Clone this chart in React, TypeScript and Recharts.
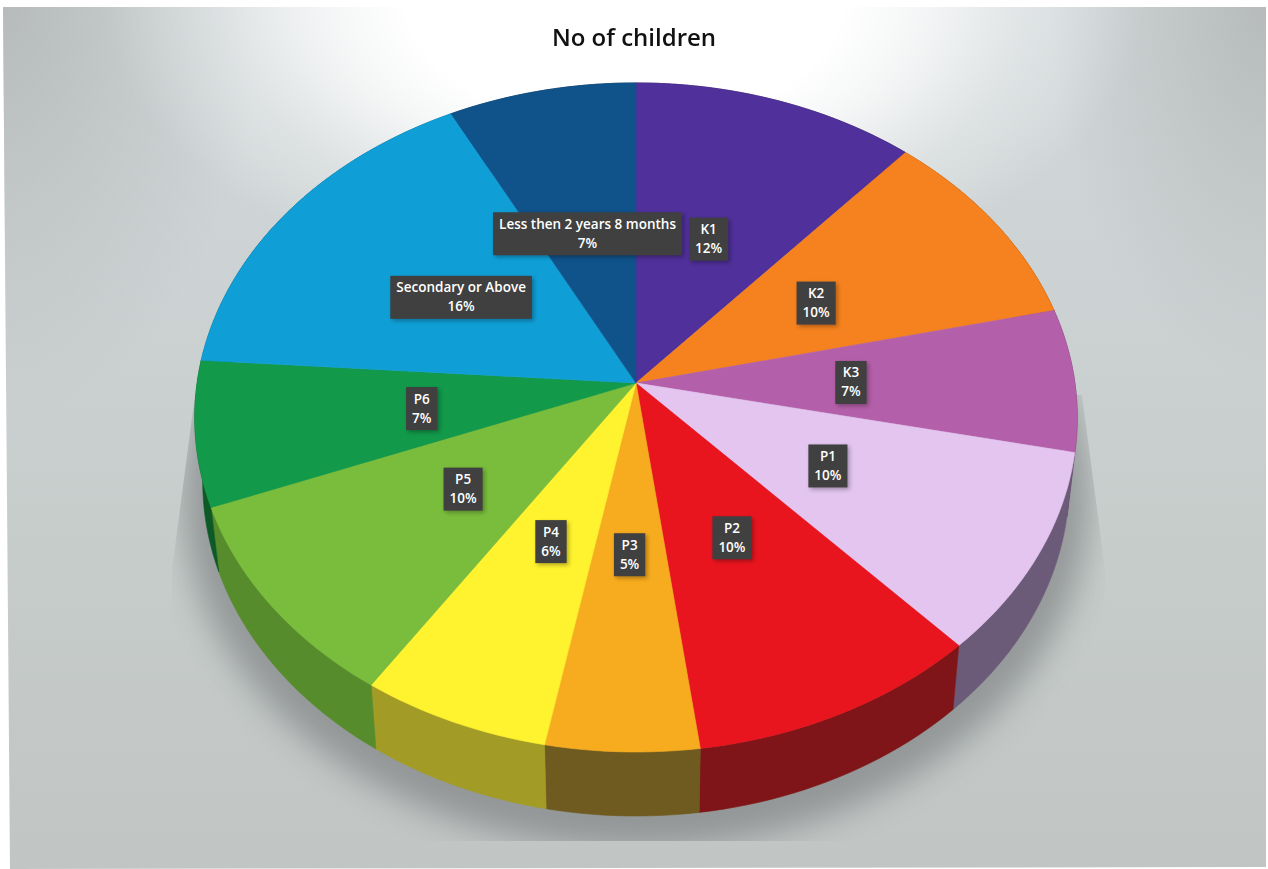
import React from "react";
import { PieChart, Pie, Cell } from "recharts";

const categories = ["K1", "K2", "K3", "P1", "P2", "P3", "P4", "P5", "P6", "Secondary or Above", "Less then 2 years 8 months"];
const shares = [11.5, 9.9, 6.9, 9.8, 9.8, 5.1, 6.3, 9.8, 7.0, 16.3, 7.6];
const percentLabels = ["12%", "10%", "7%", "10%", "10%", "5%", "6%", "10%", "7%", "16%", "7%"];
const topColors = ["#50309a", "#f5821f", "#b45fa9", "#e3c5f0", "#e8151f", "#f7ab1e", "#fff22e", "#7abd3c", "#12994a", "#0f9fd6", "#10528a"];
const sideColors = ["#2a1a50", "#80441a", "#5e3058", "#6c5b78", "#7f1518", "#6f5a20", "#a29c26", "#578c2c", "#0e5a26", "#085a78", "#082c4c"];

const rows = categories.map((name, i) => ({ name, value: shares[i], pct: percentLabels[i] }));
const wholeDisc = [{ name: "all", value: shares.reduce((a, b) => a + b, 0) }];

const CX = 636;
const CY = 383;
const R = 331;
const ASPECT = 1.326;
const TILT = -0.103;
const DEPTH = 64;
const LABEL_FRAC = 0.49;
const FONT = "'Open Sans', sans-serif";

function project(cx: number, cy: number, r: number, deg: number, frac: number, depth = 0) {
  const rad = (deg * Math.PI) / 180;
  const u = Math.cos(rad) * frac;
  const v = -Math.sin(rad) * frac;
  const den = 1 + TILT * v;
  const shrink = 1 - 0.018 * (depth / DEPTH);
  return {
    x: cx + (ASPECT * r * u * shrink) / den,
    y: cy + (r * v) / den + depth,
  };
}

function arc(p: any, frac: number, depth: number, reverse = false) {
  const { cx, cy, outerRadius, startAngle, endAngle } = p;
  const n = Math.max(2, Math.ceil(Math.abs(endAngle - startAngle) / 1.5));
  const pts = [];
  for (let i = 0; i <= n; i++) {
    const a = startAngle + ((endAngle - startAngle) * i) / n;
    const q = project(cx, cy, outerRadius, a, frac, depth);
    pts.push(`${q.x.toFixed(2)} ${q.y.toFixed(2)}`);
  }
  return reverse ? pts.reverse() : pts;
}

const TopFace = (p: any) => {
  const c = project(p.cx, p.cy, p.outerRadius, 0, 0);
  const d = `M${c.x} ${c.y}L${arc(p, 1, 0).join("L")}Z`;
  return <path d={d} fill={p.fill} stroke={p.fill} strokeWidth={0.6} />;
};

const SideFace = (p: any) => {
  const d = `M${arc(p, 1, 0).join("L")}L${arc(p, 1, DEPTH, true).join("L")}Z`;
  return <path d={d} fill={p.fill} stroke={p.fill} strokeWidth={0.6} />;
};

const ShadowFace = (p: any) => {
  const d = `M${arc(p, 1.05, DEPTH + 12).join("L")}Z`;
  return (
    <g clipPath="url(#shadowClip)">
      <path d={d} fill="#6d6f72" opacity={0.55} filter="url(#shadowBlur)" />
    </g>
  );
};

let ctx: CanvasRenderingContext2D | null = null;
function measure(text: string) {
  if (!ctx) ctx = document.createElement("canvas").getContext("2d");
  ctx!.font = `600 13.5px 'Open Sans'`;
  return ctx!.measureText(text).width;
}

const SliceLabel = (p: any) => {
  const { cx, cy, outerRadius, midAngle, name, pct, payload } = p;
  const at = project(cx, cy, outerRadius, midAngle, LABEL_FRAC);
  const text2 = pct ?? payload?.pct;
  const w = Math.max(measure(name), measure(text2)) + 12;
  const h = 43;
  const y = at.y + 1;
  return (
    <g>
      <rect x={at.x - w / 2 + 2} y={y - h / 2 + 2} width={w} height={h} fill="#000" opacity={0.3} filter="url(#boxBlur)" />
      <rect x={at.x - w / 2} y={y - h / 2} width={w} height={h} fill="#404040" />
      <text x={at.x} y={y - 5} textAnchor="middle" fontFamily={FONT} fontWeight={600} fontSize={13.5} fill="#ffffff">{name}</text>
      <text x={at.x} y={y + 14} textAnchor="middle" fontFamily={FONT} fontWeight={600} fontSize={13.5} fill="#ffffff">{text2}</text>
    </g>
  );
};

export default function App() {
  const common = { cx: CX, cy: CY, outerRadius: R, startAngle: 90, endAngle: -270, paddingAngle: 0, dataKey: "value", nameKey: "name", isAnimationActive: false, stroke: "none" };
  return (
    <div style={{ position: "absolute", left: 0, top: 0, width: 1268, height: 869, background: "#fff", overflow: "hidden" }}>
      <div
        style={{
          position: "absolute",
          inset: 0,
          clipPath: "polygon(3px 7px, 1266px 7px, 1266px 867px, 10px 869px)",
          background:
            "radial-gradient(ellipse 520px 300px at 625px 0px, #ffffff 42%, rgba(255,255,255,0.75) 58%, rgba(255,255,255,0.3) 78%, rgba(255,255,255,0) 100%)," +
            "radial-gradient(ellipse 260px 420px at 0px 0px, #b6baba 0%, rgba(190,195,196,0) 100%)," +
            "radial-gradient(ellipse 220px 380px at 1268px 0px, #b6baba 0%, rgba(190,195,196,0) 100%)," +
            "linear-gradient(to bottom, #d2d8da 0%, #cdd3d4 30%, #c7cdcb 60%, #c1c5c4 100%)",
        }}
      />
      <div style={{ position: "absolute", inset: 0, filter: "blur(0.45px)" }}>
        <PieChart width={1268} height={869} margin={{ top: 0, right: 0, bottom: 0, left: 0 }}>
          <defs>
            <filter id="shadowBlur" x="-20%" y="-20%" width="140%" height="140%">
              <feGaussianBlur stdDeviation="16" />
            </filter>
            <filter id="boxBlur" x="-30%" y="-30%" width="160%" height="160%">
              <feGaussianBlur stdDeviation="2" />
            </filter>
            <clipPath id="shadowClip">
              <polygon points="195,395 172,570 172,841 1105,841 1105,570 1082,395" />
            </clipPath>
          </defs>
          <text x={634} y={46} textAnchor="middle" fontFamily={FONT} fontWeight={600} fontSize={24} fill="#111111">No of children</text>
          <Pie {...common} data={wholeDisc} shape={ShadowFace} fill="#6d6f72" />
          <Pie {...common} data={rows} shape={SideFace}>
            {rows.map((r, i) => <Cell key={r.name} fill={sideColors[i]} />)}
          </Pie>
          <Pie {...common} data={rows} shape={TopFace} labelLine={false} label={SliceLabel}>
            {rows.map((r, i) => <Cell key={r.name} fill={topColors[i]} />)}
          </Pie>
        </PieChart>
      </div>
    </div>
  );
}
